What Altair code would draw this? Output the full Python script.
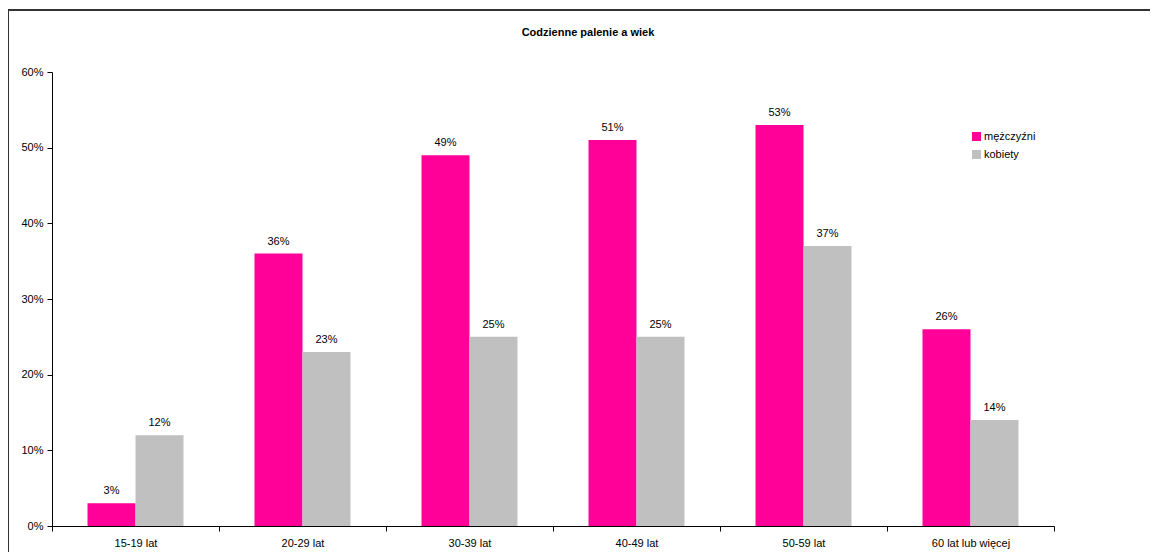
import altair as alt
import pandas as pd

categories = ["15-19 lat", "20-29 lat", "30-39 lat", "40-49 lat", "50-59 lat", "60 lat lub więcej"]
men = [0.03, 0.36, 0.49, 0.51, 0.53, 0.26]
women = [0.12, 0.23, 0.25, 0.25, 0.37, 0.14]
series = ["mężczyźni", "kobiety"]
colors = ["#FF0099", "#C0C0C0"]
title_text = "Codzienne palenie a wiek"

rows = []
for c, m, w in zip(categories, men, women):
    rows.append({"cat": c, "sex": series[0], "val": m})
    rows.append({"cat": c, "sex": series[1], "val": w})
df = pd.DataFrame(rows)

FONT = "Liberation Sans"

x_enc = alt.X("cat:N", sort=categories, title=None,
              scale=alt.Scale(paddingInner=0, paddingOuter=0),
              axis=alt.Axis(labelAngle=0, tickBand="extent", tickSize=5, labelPadding=6,
                            domainColor="black", tickColor="black", labelColor="black",
                            labelFont=FONT, labelFontSize=11, domainWidth=1))
xo_enc = alt.XOffset("sex:N", sort=series, scale=alt.Scale(paddingOuter=0.74, paddingInner=0))

base = alt.Chart(df)

bars = base.mark_bar().encode(
    x=x_enc,
    xOffset=xo_enc,
    y=alt.Y("val:Q", title=None,
            scale=alt.Scale(domain=[0, 0.6], nice=False),
            axis=alt.Axis(format=".0%", values=[0, 0.1, 0.2, 0.3, 0.4, 0.5, 0.6],
                          tickSize=5, labelPadding=4, grid=False,
                          domainColor="black", tickColor="black", labelColor="black",
                          labelFont=FONT, labelFontSize=11)),
    color=alt.Color("sex:N", sort=series,
                    scale=alt.Scale(domain=series, range=colors),
                    legend=alt.Legend(title=None, orient="none", legendX=919, legendY=59,
                                      symbolType="square", symbolSize=81, symbolStrokeWidth=0,
                                      labelFont=FONT, labelFontSize=11, labelColor="black",
                                      labelOffset=2, rowPadding=6, padding=0)),
)

labels = base.mark_text(baseline="bottom", dy=-7, font=FONT, fontSize=11, color="black").encode(
    x=alt.X("cat:N", sort=categories),
    xOffset=xo_enc,
    y=alt.Y("val:Q"),
    text=alt.Text("val:Q", format=".0%"),
)

one = pd.DataFrame({"a": [0]})
border_top = alt.Chart(one).mark_rect(fill="#333333", strokeWidth=0).encode(
    x=alt.value(-45), x2=alt.value(1098), y=alt.value(-63), y2=alt.value(-61))
border_left = alt.Chart(one).mark_rect(fill="#333333", strokeWidth=0).encode(
    x=alt.value(-45), x2=alt.value(-43), y=alt.value(-63), y2=alt.value(480))

title = alt.Chart(pd.DataFrame({"t": [title_text]})).mark_text(
    font=FONT, fontSize=11, fontWeight="bold", color="black", baseline="middle", align="center"
).encode(x=alt.value(536), y=alt.value(-39), text="t:N")

chart = alt.layer(border_top, border_left, bars, labels, title).properties(
    width=1002, height=454,
    autosize=alt.AutoSizeParams(type="none"),
    padding={"left": 44, "top": 64, "right": 96, "bottom": 26},
).configure_view(stroke=None)

chart.save("out.html", embed_options={"renderer": "svg", "actions": False})
